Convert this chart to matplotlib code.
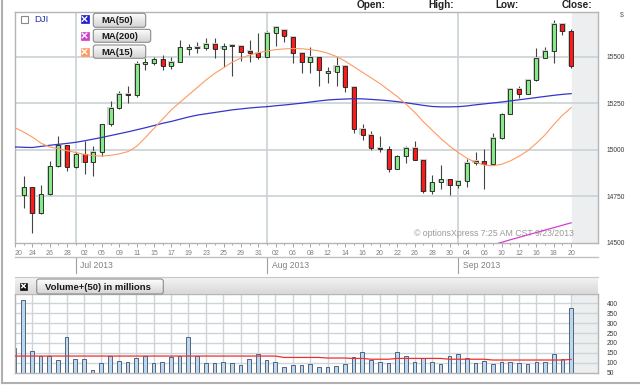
import matplotlib.pyplot as plt
import numpy as np
from matplotlib import transforms
from matplotlib.patches import FancyBboxPatch, Rectangle

plt.rcParams['font.family'] = ['Liberation Sans', 'DejaVu Sans']

# trading days 20 Jun 2013 .. 20 Sep 2013, every other day labelled
day_labels = ['20', '24', '26', '28', '02', '05', '09', '11', '15', '17', '19',
              '23', '25', '29', '31', '02', '06', '08', '12', '14', '16', '20',
              '22', '26', '28', '30', '04', '06', '10', '12', '16', '18', '20']
month_names = ['Jul 2013', 'Aug 2013', 'Sep 2013']
month_start = [7, 29, 51]  # index of first trading day of each month

opens = [15112.19, 14758.32, 14799.40, 14659.56, 14760.31, 14910.14, 15024.49, 14909.60, 14974.96, 14932.41,
         14988.55, 15135.84, 15224.69, 15300.34, 15291.66, 15460.92, 15464.30, 15484.26, 15451.85, 15470.52,
         15540.00, 15543.74, 15545.55, 15567.74, 15542.24, 15555.61, 15558.83, 15521.97, 15520.59, 15499.54,
         15628.02, 15645.00, 15605.00, 15518.74, 15470.67, 15498.32, 15412.00, 15419.68, 15451.01, 15337.66,
         15112.19, 15081.47, 15010.74, 15002.99, 14897.55, 14963.74, 15010.51, 14946.46, 14776.13, 14824.51,
         14840.95, 14810.31, 14833.96, 14930.87, 14937.48, 14922.50, 15063.12, 15191.06, 15326.60, 15300.64,
         15376.06, 15494.78, 15529.73, 15676.94, 15636.55]
highs = [15113, 14861, 14800, 14812, 14937, 15075, 15027, 14990, 15048, 15021,
         15140, 15259, 15316, 15343, 15478, 15493, 15500, 15509, 15500, 15590,
         15565, 15580, 15598, 15598, 15570, 15562, 15560, 15589, 15625, 15635,
         15660, 15650, 15610, 15520, 15550, 15500, 15446, 15500, 15455, 15340,
         15139, 15098, 15075, 15018, 14973, 15018, 15048, 14950, 14866, 14916,
         14843, 14840, 14950, 14986, 15005, 15089, 15195, 15330, 15343, 15380,
         15545, 15550, 15696, 15679, 15647]
lows = [14740, 14689, 14554, 14655, 14755, 14905, 14884, 14900, 14870, 14857,
        14968, 15130, 15220, 15253, 15285, 15428, 15455, 15428, 15432, 15470,
        15510, 15520, 15535, 15491, 15446, 15396, 15478, 15473, 15486, 15495,
        15554, 15580, 15464, 15414, 15414, 15343, 15357, 15343, 15312, 15089,
        15050, 15000, 14986, 14878, 14895, 14929, 14943, 14768, 14764, 14789,
        14759, 14795, 14798, 14920, 14789, 14920, 15060, 15190, 15280, 15300,
        15370, 15490, 15464, 15616, 15440]
closes = [14758.32, 14799.40, 14659.56, 14760.31, 14910.14, 15024.49, 14909.60, 14974.96, 14932.41, 14988.55,
          15135.84, 15224.69, 15300.34, 15291.66, 15460.92, 15464.30, 15484.26, 15451.85, 15470.52, 15548.54,
          15543.74, 15545.55, 15567.74, 15542.24, 15555.61, 15558.83, 15521.97, 15520.59, 15499.54, 15628.02,
          15658.36, 15612.13, 15518.74, 15470.67, 15498.32, 15425.51, 15419.68, 15451.01, 15337.66, 15112.19,
          15081.47, 15010.74, 15002.99, 14897.55, 14963.74, 15010.51, 14946.46, 14776.13, 14824.51, 14840.95,
          14810.31, 14833.96, 14930.87, 14937.48, 14922.50, 15063.12, 15191.06, 15326.60, 15300.64, 15376.06,
          15494.78, 15529.73, 15676.94, 15636.55, 15451.09]

ma15 = [15118, 15095, 15068, 15035, 15015, 15005, 14995, 14985, 14975, 14968,
        14966, 14970, 14978, 14990, 15018, 15065, 15115, 15165, 15215, 15255,
        15295, 15335, 15375, 15410, 15440, 15470, 15492, 15508, 15520, 15530,
        15537, 15541, 15543, 15542, 15537, 15530, 15518, 15500, 15475, 15445,
        15415, 15385, 15355, 15320, 15285, 15245, 15200, 15150, 15105, 15060,
        15020, 14985, 14955, 14932, 14918, 14914, 14922, 14940, 14965, 14995,
        15035, 15080, 15135, 15185, 15226]
ma50 = [15015, 15013, 15012, 15018, 15024, 15029, 15034, 15040, 15048, 15057,
        15066, 15076, 15086, 15096, 15107, 15118, 15130, 15142, 15152, 15164,
        15176, 15186, 15193, 15200, 15207, 15214, 15219, 15224, 15228, 15231,
        15236, 15240, 15245, 15250, 15256, 15262, 15267, 15270, 15272, 15274,
        15273, 15270, 15267, 15263, 15258, 15252, 15245, 15238, 15232, 15230,
        15230, 15231, 15235, 15241, 15246, 15251, 15256, 15262, 15268, 15274,
        15280, 15286, 15292, 15297, 15301]
ma200_days = [55, 56, 57, 58, 59, 60, 61, 62, 63, 64]
ma200 = [14490, 14503, 14517, 14530, 14543, 14556, 14569, 14582, 14595, 14608]

volume = [173, 416, 159, 134, 134, 114, 231, 120, 117, 64,
          97, 134, 109, 104, 124, 134, 100, 104, 129, 136,
          230, 134, 100, 100, 104, 97, 89, 117, 144, 114,
          104, 77, 89, 89, 94, 77, 80, 84, 92, 127,
          153, 114, 104, 97, 153, 132, 102, 122, 102, 92,
          136, 143, 122, 99, 107, 92, 104, 102, 97, 92,
          102, 102, 143, 117, 377]
volume_ma = [134] * 31 + [127] * 5 + [124] * 3 + [122] * 2 + [118] * 3 + [122] * 6 + [118] * 5 + [114] * 9 + [117]

W, H = 640, 387
fig = plt.figure(figsize=(6.4, 3.87), dpi=100)


def frect(x0, y0, x1, y1):
    # pixel box (from top-left) -> figure fraction rect
    return [x0 / W, 1 - y1 / H, (x1 - x0) / W, (y1 - y0) / H]


ax = fig.add_axes(frect(15, 12, 597.5, 243.3))
vax = fig.add_axes(frect(15, 294, 597.5, 373.3))
deco = fig.add_axes([0, 0, 1, 1], zorder=5)

x = np.arange(len(closes))
o = np.array(opens)
c = np.array(closes)
up = c >= o
body_lo = np.minimum(o, c)
body_h = np.maximum(np.abs(c - o), 9)
xmin, xmax = 0.08, 67.03
grid_c = '#cdd5d8'
spine_c = '#b5b5b5'

# ---- price panel
ax.axvspan(x[-1] + 0.07, xmax + 1, color='#eceeef', zorder=0)
for v in [14750, 15000, 15250, 15500]:
    ax.axhline(v, color=grid_c, lw=1.3, zorder=0.5)
for m in month_start:
    ax.axvline(m, color=grid_c, lw=1.3, zorder=0.5)

# the first session sits on the left border and is hidden in the original
k = x[1:]
ax.vlines(k, np.array(lows)[1:], np.array(highs)[1:], color='#454545', lw=0.8, zorder=2)
ax.bar(k, body_h[1:] + 6, bottom=body_lo[1:] - 3, width=0.72, color='#cfcfcf', zorder=2.5)
ax.bar(k, body_h[1:], bottom=body_lo[1:], width=0.46, color=np.where(up[1:], '#86e886', '#ff1a1a'),
       edgecolor='#1a1a1a', lw=0.6, zorder=3)

ax.plot(x, ma50, color='#3535c8', lw=0.9, zorder=4)
ax.plot(x, ma15, color='#ff9a60', lw=0.8, zorder=4)
ax.plot(ma200_days, ma200, color='#d040d0', lw=0.9, zorder=4)

ax.set_xlim(xmin, xmax)
ax.set_ylim(14498, 15739)
ax.set_yticks([14500, 14750, 15000, 15250, 15500])
ax.yaxis.tick_right()
ax.tick_params(axis='y', length=0, pad=6.8, labelsize=4.8, labelcolor='#3a3a3a')
ax.set_xticks(x[::2], labels=day_labels)
ax.set_xticks(x[1::2], minor=True)
ax.tick_params(axis='x', which='major', length=3, width=0.6, color='#999999', pad=1.5,
               labelsize=5, labelcolor='#808080')
ax.tick_params(axis='x', which='minor', length=1.6, width=0.6, color='#999999')
ax.get_xticklabels()[0].set_ha('left')
for s in ax.spines.values():
    s.set_color(spine_c)
    s.set_linewidth(1)

ax.text(574, 233, '\u00a9 optionsXpress 7:25 AM CST 9/23/2013', transform=deco.transData,
        ha='right', va='center', fontsize=6.3, color='#9a9a9a', zorder=1)

# month band below the price panel
band = transforms.blended_transform_factory(ax.transData, deco.transData)
for m, name in zip(month_start, month_names):
    ax.plot([m, m], [258, 273], transform=band, color='#a0a0a0', lw=0.8, clip_on=False)
    ax.text(m, 266, name, transform=transforms.offset_copy(band, fig=fig, x=4.5, units='dots'),
            ha='left', va='center', fontsize=6.2, color='#808080')

# ---- volume panel
vax.axvspan(x[-1] + 0.07, xmax + 1, color='#eceeef', zorder=0)
for v in range(100, 401, 50):
    vax.axhline(v, color=grid_c, lw=1, zorder=0.5)
for d in x[::2]:
    vax.axvline(d, color=grid_c, lw=1, zorder=0.5)
vax.bar(x, volume, width=0.42, color='#bcd8ec', edgecolor='#3b4f72', lw=0.6, zorder=2)
vax.plot(x, volume_ma, color='#ee3030', lw=0.9, zorder=3)
vax.set_xlim(xmin, xmax)
vax.set_ylim(47, 447)
vax.set_xticks([])
vax.set_yticks(range(50, 401, 50))
vax.yaxis.tick_right()
vax.tick_params(axis='y', length=0, pad=6.5, labelsize=4.8, labelcolor='#3a3a3a')
for s in vax.spines.values():
    s.set_color(spine_c)
    s.set_linewidth(1)

# ---- decorations in pixel space
deco.set_xlim(0, W)
deco.set_ylim(H, 0)
deco.axis('off')


def vgrad(top, bottom, n=32):
    t = np.linspace(0, 1, n)[:, None, None]
    a = np.array(plt.matplotlib.colors.to_rgb(top))
    b = np.array(plt.matplotlib.colors.to_rgb(bottom))
    return a * (1 - t) + b * t


deco.imshow(vgrad('#f4f4f4', '#d8d8d8'), extent=(15, 597.5, 294, 277), aspect='auto', zorder=1)
deco.plot([15, 597.5], [277, 277], color='#c8c8c8', lw=0.8, zorder=1.5)


def button(x0, y0, x1, y1, label):
    box = FancyBboxPatch((x0, y0), x1 - x0, y1 - y0, boxstyle='round,pad=0,rounding_size=2.5',
                         fc='none', ec='#8c8c8c', lw=0.8, zorder=3)
    deco.add_patch(box)
    im = deco.imshow(vgrad('#fefefe', '#d4d4d4'), extent=(x0, x1, y1, y0), aspect='auto', zorder=2)
    im.set_clip_path(box)
    deco.text(x0 + 8, (y0 + y1) / 2 + 0.5, label, fontsize=6.8, fontweight='bold',
              color='#1a1a1a', ha='left', va='center', zorder=4)


def xicon(x0, y0, color, size=8):
    deco.add_patch(Rectangle((x0, y0), size, size, fc=color, ec=color, lw=0.5, zorder=3))
    p, q = x0 + 1.8, x0 + size - 1.8
    r, s = y0 + 1.8, y0 + size - 1.8
    deco.plot([p, q], [r, s], color='white', lw=1, zorder=4)
    deco.plot([p, q], [s, r], color='white', lw=1, zorder=4)


deco.add_patch(Rectangle((20.5, 16), 7, 7, fc='white', ec='#8a8a8a', lw=0.8, zorder=3))
deco.text(34, 20, 'DJI', fontsize=6.8, color='#2233aa', ha='left', va='center', zorder=4)
xicon(80.5, 15, '#2020d0')
xicon(80.5, 31.5, '#d040d0')
xicon(80.5, 47.7, '#ff9960')
button(93.3, 13.3, 145.7, 27.3, 'MA(50)')
button(93.3, 29.3, 150.7, 42.3, 'MA(200)')
button(93.3, 45, 145.7, 58.3, 'MA(15)')

xicon(20, 282.5, '#111111', size=7)
button(36.7, 279, 163.3, 294, 'Volume+(50) in millions')

# quote header above the chart (cut at the top in the original, kept fully visible here)
for label, px in zip(['Open:', 'High:', 'Low:', 'Close:'], [357, 428, 495, 562]):
    deco.text(px, 8.5, label, fontsize=7.2, fontweight='bold', color='#222222',
              ha='left', va='baseline')
deco.text(622, 15, '$', fontsize=5, color='#666666', ha='center', va='center')

deco.plot([2, 2], [0, 383], color='#b0b0b0', lw=1.5)
deco.plot([2, W], [383, 383], color='#b0b0b0', lw=1.5)
deco.plot([15, 597.5], [257, 257], color='#c0c0c0', lw=1)

fig.savefig('out.png', dpi=100)
